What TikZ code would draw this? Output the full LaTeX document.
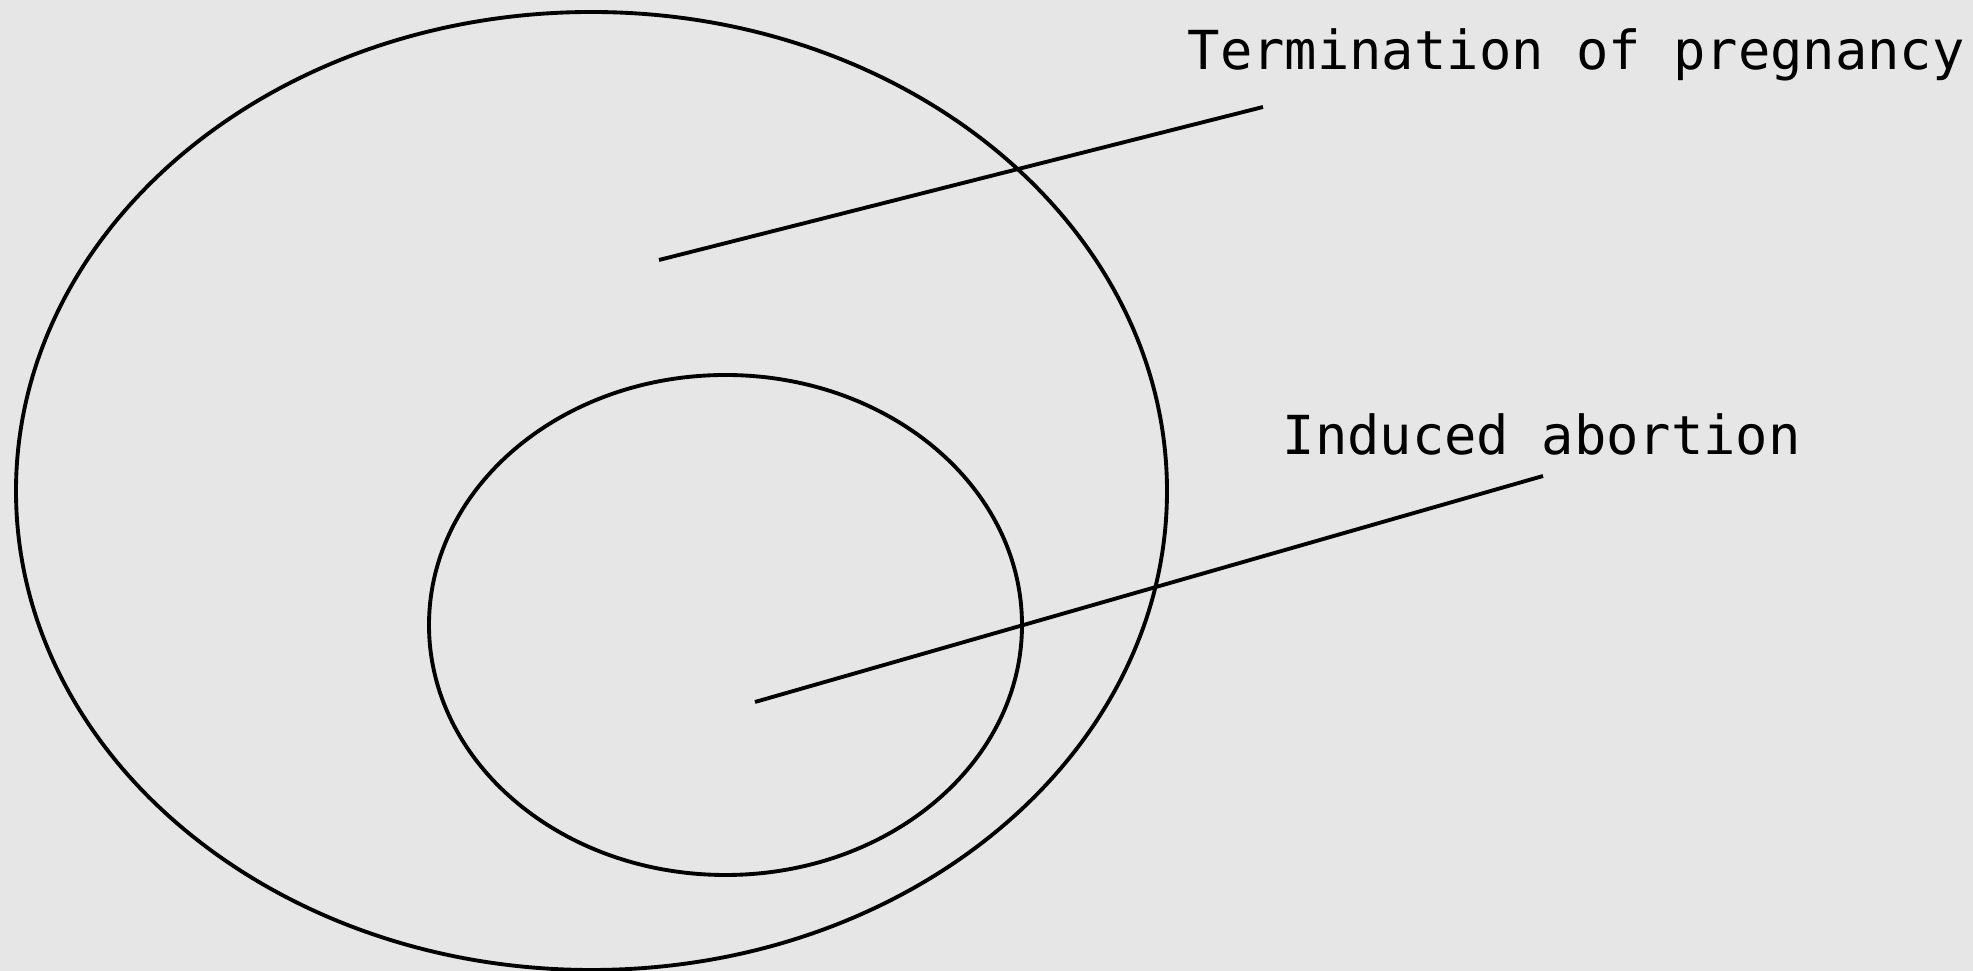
\documentclass[tikz,border=0pt]{standalone}
\usepackage{fontspec}
\setmonofont{DejaVu Sans Mono}
\usetikzlibrary{shapes.geometric}
\definecolor{canvas}{RGB}{230,230,230}

\begin{document}
\begin{tikzpicture}[
  set/.style={draw, ellipse, line width=1.1pt, inner sep=0pt},
  tag/.style={font=\ttfamily\fontsize{15.3}{18}\selectfont, anchor=base west, inner sep=0pt},
  pointer/.style={line width=1.1pt}
]
\fill[canvas] (0,0) rectangle (19.73,-9.71);
\useasboundingbox (0,0) rectangle (19.73,-9.71);
% the two sets
\node[set, minimum width=11.51cm, minimum height=9.58cm] (outer) at (5.915,-4.91) {};
\node[set, minimum width=5.93cm, minimum height=5.00cm] (inner) at (7.255,-6.25) {};
% labels
\node[tag] (termination) at (11.87,-0.70) {Termination of pregnancy};
\node[tag] (induced) at (12.82,-4.55) {Induced abortion};
% pointers
\coordinate (p1) at (6.59,-2.60);
\coordinate (q1) at (12.63,-1.07);
\coordinate (p2) at (7.55,-7.02);
\coordinate (q2) at (15.43,-4.76);
\draw[pointer] (p1) -- (q1);
\draw[pointer] (p2) -- (q2);
\end{tikzpicture}
\end{document}
